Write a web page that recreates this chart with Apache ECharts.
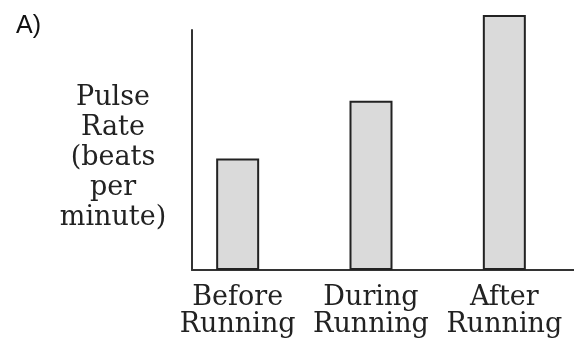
<!DOCTYPE html>
<html>
<head>
<meta charset="utf-8">
<script src="https://cdn.jsdelivr.net/npm/echarts@6/dist/echarts.min.js"></script>
<style>
  html, body { margin: 0; padding: 0; background: #fff; }
  #main { width: 574px; height: 342px; }
</style>
</head>
<body>
<div id="main"></div>
<script>
// categories and values (no scale in the original, read as relative heights)
const categories = ["Before\nRunning", "During\nRunning", "After\nRunning"];
const pulseRates = [56, 85, 128];
const yAxisTitle = "Pulse\nRate\n(beats\nper\nminute)";

const serif = "DejaVu Serif";
const chart = echarts.init(document.getElementById("main"));

const option = {
  backgroundColor: "#fff",
  animation: false,
  title: {
    text: "A)",
    left: 11,
    top: 9,
    textStyle: { fontFamily: "Liberation Sans", fontWeight: "normal", fontSize: 25, color: "#111" }
  },
  grid: [
    // bars
    { left: 171, width: 400, top: 15, bottom: 72 },
    // axis frame
    { left: 192, right: 0, top: 30, bottom: 72 }
  ],
  xAxis: [
    {
      type: "category",
      gridIndex: 0,
      data: categories,
      axisLine: { show: false },
      axisTick: { show: false },
      axisLabel: {
        fontFamily: serif,
        fontSize: 27,
        lineHeight: 27,
        color: "#222",
        margin: 14,
        interval: 0
      }
    },
    {
      type: "value",
      gridIndex: 1,
      min: 0,
      max: 1,
      axisLine: { show: true, onZero: false, lineStyle: { color: "#333", width: 2 } },
      axisTick: { show: false },
      axisLabel: { show: false },
      splitLine: { show: false }
    }
  ],
  yAxis: [
    {
      type: "value",
      gridIndex: 0,
      min: 0,
      max: 128,
      show: false
    },
    {
      type: "value",
      gridIndex: 1,
      min: 0,
      max: 1,
      // small empty first line nudges the block down a little
      name: "{gap|}\n" + yAxisTitle,
      nameLocation: "middle",
      nameRotate: 0,
      nameGap: 79,
      nameTextStyle: {
        fontFamily: serif,
        fontSize: 27,
        lineHeight: 30,
        color: "#222",
        align: "center",
        verticalAlign: "middle",
        rich: { gap: { lineHeight: 16, fontSize: 2 } }
      },
      axisLine: { show: true, onZero: false, lineStyle: { color: "#333", width: 2 } },
      axisTick: { show: false },
      axisLabel: { show: false },
      splitLine: { show: false }
    }
  ],
  series: [
    {
      type: "bar",
      xAxisIndex: 0,
      yAxisIndex: 0,
      data: pulseRates,
      barWidth: 43,
      clip: false,
      itemStyle: { color: "#dadada", borderColor: "#222", borderWidth: 2 }
    }
  ]
};

chart.setOption(option);
</script>
</body>
</html>
